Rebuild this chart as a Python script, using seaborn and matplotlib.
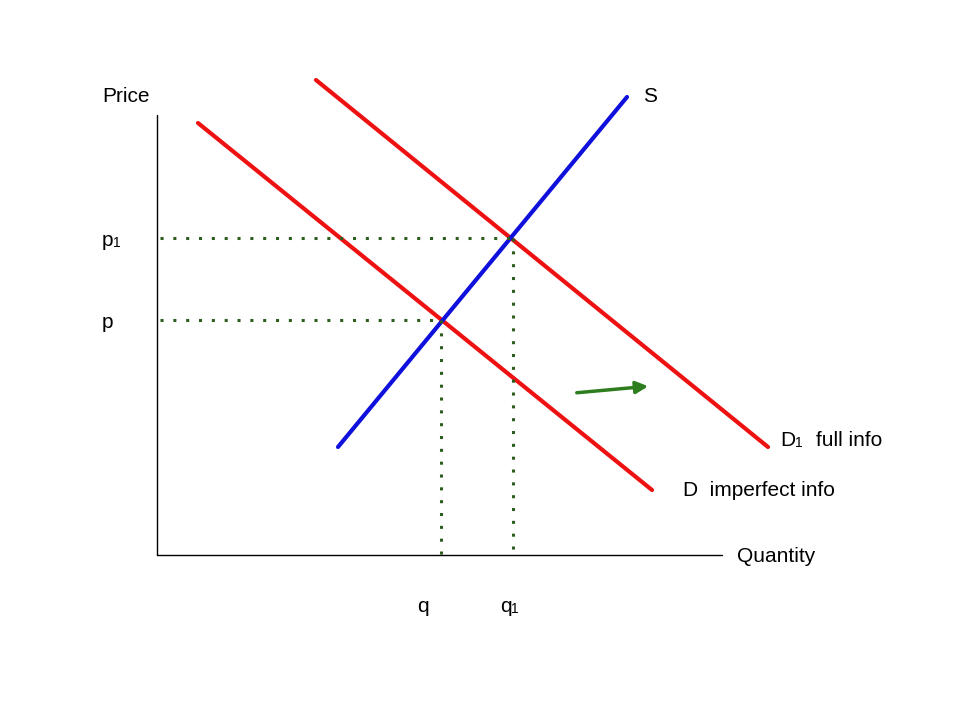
import matplotlib
matplotlib.use("Agg")
from matplotlib import pyplot as plt
import numpy as np
import pandas as pd
import seaborn as sns

# curve endpoints, in quantity / price units (origin at the axes corner)
demand_q = [41, 495]
demand_p = [432, 65]
demand1_q = [159, 611]
demand1_p = [475, 108]
supply_q = [181, 470]
supply_p = [108, 458]
eq_q = [284, 356]
eq_p = [235, 317]


def main():
    sns.set_theme(style="white")
    plt.rcParams["font.family"] = ["Liberation Sans", "DejaVu Sans"]
    plt.rcParams["text.color"] = "black"
    fig = plt.figure(figsize=(9.6, 7.2), dpi=100)
    ax = fig.add_axes([0, 0, 1, 1])
    ax.set_xlim(-157, 803)
    ax.set_ylim(-165, 555)
    ax.axis("off")

    df = pd.DataFrame({
        "q": demand_q + demand1_q + supply_q,
        "p": demand_p + demand1_p + supply_p,
        "curve": ["D"] * 2 + ["D1"] * 2 + ["S"] * 2,
    })
    sns.lineplot(data=df, x="q", y="p", hue="curve", units="curve",
                 estimator=None, sort=False, ax=ax, legend=False, lw=3,
                 palette={"D": "#ee1111", "D1": "#ee1111", "S": "#1010dd"})

    green = "#2e5e1e"
    for q, p in zip(eq_q, eq_p):
        ax.plot([3, q], [p, p], ls=(0, (1, 3.2)), color=green, lw=2.2)
        ax.plot([q, q], [p, 0], ls=(0, (1, 3.2)), color=green, lw=2.2)

    # axes
    ax.plot([0, 0], [0, 440], color="black", lw=1)
    ax.plot([0, 565], [0, 0], color="black", lw=1)

    ax.annotate("", xy=(494, 169), xytext=(417, 162),
                arrowprops=dict(arrowstyle="-|>", color="#2e7d1e", lw=2.5,
                                mutation_scale=18))

    fs = 15
    sub = 10
    ax.text(-55, 458, "Price", fontsize=fs, va="center")
    ax.text(486, 458, "S", fontsize=fs, va="center")
    ax.text(-55, 314, "p", fontsize=fs, va="center")
    ax.text(-44, 312, "1", fontsize=sub, va="center")
    ax.text(-55, 233, "p", fontsize=fs, va="center")
    ax.text(260, -52, "q", fontsize=fs, va="center")
    ax.text(343, -52, "q", fontsize=fs, va="center")
    ax.text(354, -54, "1", fontsize=sub, va="center")
    ax.text(623, 114, "D", fontsize=fs, va="center")
    ax.text(638, 112, "1", fontsize=sub, va="center")
    ax.text(659, 114, "full info", fontsize=fs, va="center")
    ax.text(526, 64, "D  imperfect info", fontsize=fs, va="center")
    ax.text(580, -2, "Quantity", fontsize=fs, va="center")

    fig.savefig("out.png", dpi=100)


if __name__ == "__main__":
    main()
